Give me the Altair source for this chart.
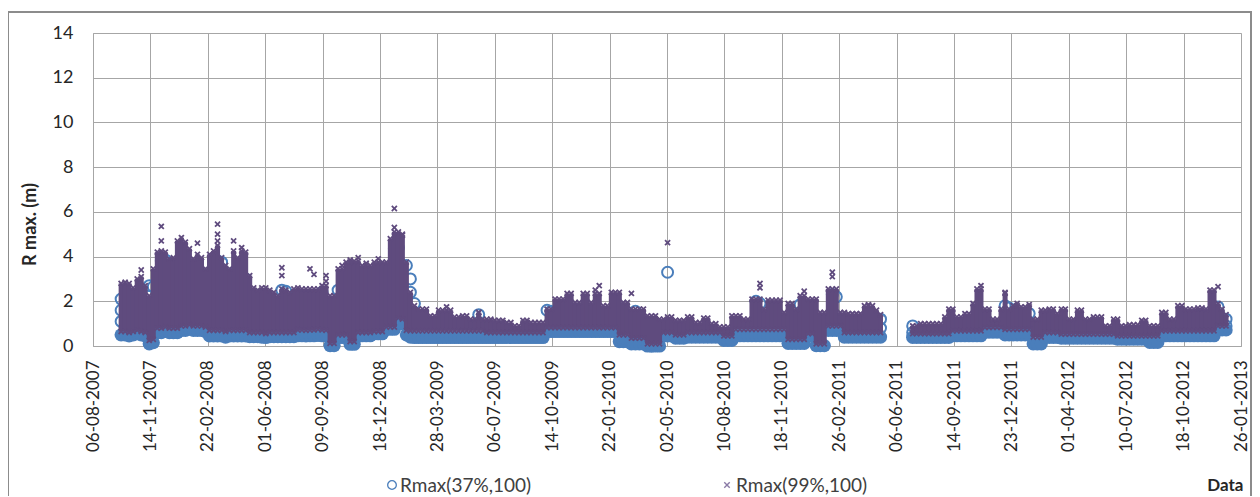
import altair as alt
import pandas as pd

BLUE = "#4A7EBB"
PURPLE = "#5F4B7E"
GRID = "#a6a6a6"
TEXT = "#262626"
FONT = "Lato"
FS = 17

SERIES_37 = "Rmax(37%,100)"
SERIES_99 = "Rmax(99%,100)"

# weekly samples
SEG1_START = "2007-09-24"
SEG2_START = "2011-07-04"

seg1_hi = [
    2.8, 2.85, 2.8, 2.6, 3.0, 3.1, 2.7, 2.25, 3.45, 4.2,
    4.25, 4.2, 3.9, 3.95, 4.7, 4.85, 4.65, 4.35, 3.9, 4.1,
    3.95, 3.45, 4.1, 4.25, 4.5, 3.95, 3.6, 3.45, 4.25, 3.95,
    4.25, 4.2, 3.15, 2.6, 2.5, 2.6, 2.6, 2.5, 2.4, 2.25,
    2.55, 2.5, 2.4, 2.55, 2.6, 2.55, 2.55, 2.55, 2.55, 2.55,
    2.7, 2.7, 2.25, 2.25, 3.45, 3.45, 3.75, 3.75, 3.8, 3.8,
    3.6, 3.6, 3.6, 3.75, 3.75, 3.75, 3.75, 4.8, 5.1, 5.1,
    4.95, 3.75, 2.4, 1.8, 1.65, 1.65, 1.65, 1.35, 1.35, 1.6,
    1.6, 1.6, 1.6, 1.3, 1.3, 1.35, 1.35, 1.2, 1.2, 1.5,
    1.2, 1.2, 1.2, 1.15, 1.15, 1.15, 1.05, 1.05, 0.9, 0.9,
    1.15, 1.15, 1.05, 1.05, 1.05, 1.05, 1.65, 1.65, 2.1, 2.1,
    2.1, 2.35, 2.35, 1.95, 1.95, 2.35, 2.35, 1.95, 2.35, 2.35,
    1.8, 1.8, 2.4, 2.4, 2.4, 1.95, 1.95, 1.65, 1.65, 1.65,
    1.65, 1.35, 1.35, 1.35, 1.2, 1.2, 1.3, 1.3, 1.15, 1.15,
    1.15, 1.3, 1.3, 1.05, 1.05, 1.25, 1.25, 1.0, 1.0, 0.85,
    0.85, 0.85, 1.35, 1.35, 1.35, 1.2, 1.2, 2.1, 2.1, 2.1,
    1.65, 2.05, 2.05, 2.05, 2.05, 1.5, 1.9, 1.9, 1.65, 2.25,
    2.25, 2.1, 2.1, 2.1, 1.5, 1.5, 2.55, 2.55, 2.55, 1.5,
    1.5, 1.45, 1.45, 1.45, 1.45, 1.8, 1.8, 1.8, 1.6, 1.4,
]
seg1_lo = [
    0.65, 0.65, 0.6, 0.65, 0.7, 0.65, 0.6, 0.25, 0.3, 0.8,
    0.8, 0.85, 0.8, 0.8, 0.8, 0.9, 0.9, 0.95, 0.9, 0.9,
    0.9, 0.85, 0.7, 0.7, 0.7, 0.7, 0.65, 0.7, 0.7, 0.7,
    0.7, 0.7, 0.6, 0.6, 0.6, 0.6, 0.55, 0.6, 0.6, 0.6,
    0.6, 0.6, 0.6, 0.6, 0.72, 0.72, 0.7, 0.72, 0.72, 0.75,
    0.72, 0.7, 0.12, 0.12, 0.5, 0.5, 0.5, 0.2, 0.2, 0.6,
    0.6, 0.6, 0.6, 0.65, 0.65, 0.65, 0.85, 0.85, 0.85, 1.25,
    1.2, 0.7, 0.68, 0.68, 0.68, 0.68, 0.68, 0.68, 0.68, 0.68,
    0.68, 0.68, 0.68, 0.68, 0.68, 0.68, 0.68, 0.68, 0.68, 0.68,
    0.68, 0.6, 0.6, 0.6, 0.6, 0.6, 0.6, 0.6, 0.6, 0.6,
    0.6, 0.6, 0.6, 0.6, 0.6, 0.6, 0.82, 0.82, 0.82, 0.82,
    0.82, 0.82, 0.82, 0.82, 0.82, 0.82, 0.82, 0.82, 0.82, 0.82,
    0.82, 0.82, 0.82, 0.82, 0.5, 0.5, 0.5, 0.35, 0.35, 0.35,
    0.35, 0.1, 0.1, 0.1, 0.1, 0.6, 0.6, 0.6, 0.5, 0.5,
    0.5, 0.6, 0.6, 0.6, 0.6, 0.6, 0.6, 0.6, 0.6, 0.6,
    0.45, 0.45, 0.45, 0.75, 0.75, 0.75, 0.75, 0.75, 0.75, 0.75,
    0.75, 0.75, 0.75, 0.75, 0.75, 0.75, 0.3, 0.3, 0.3, 0.3,
    0.3, 0.55, 0.55, 0.1, 0.1, 0.1, 0.9, 0.9, 0.9, 0.9,
    0.6, 0.6, 0.6, 0.6, 0.6, 0.6, 0.6, 0.6, 0.6, 0.6,
]
seg1_blue = [
    0.5, 0.5, 0.45, 0.5, 0.55, 0.5, 0.45, 0.1, 0.15, 0.6,
    0.6, 0.65, 0.6, 0.6, 0.6, 0.7, 0.7, 0.75, 0.7, 0.7,
    0.7, 0.65, 0.45, 0.45, 0.45, 0.45, 0.4, 0.45, 0.45, 0.45,
    0.45, 0.45, 0.42, 0.42, 0.42, 0.4, 0.38, 0.42, 0.42, 0.42,
    0.42, 0.42, 0.42, 0.42, 0.46, 0.46, 0.45, 0.46, 0.46, 0.48,
    0.46, 0.45, 0.02, 0.02, 0.38, 0.38, 0.38, 0.08, 0.08, 0.46,
    0.46, 0.46, 0.46, 0.55, 0.55, 0.55, 0.75, 0.75, 0.75, 1.05,
    1.0, 0.5, 0.4, 0.38, 0.38, 0.38, 0.38, 0.38, 0.38, 0.38,
    0.38, 0.38, 0.38, 0.38, 0.38, 0.38, 0.38, 0.38, 0.38, 0.38,
    0.38, 0.38, 0.38, 0.38, 0.38, 0.38, 0.38, 0.38, 0.38, 0.38,
    0.38, 0.38, 0.38, 0.38, 0.38, 0.38, 0.65, 0.65, 0.65, 0.65,
    0.65, 0.65, 0.65, 0.65, 0.65, 0.65, 0.65, 0.65, 0.65, 0.65,
    0.65, 0.65, 0.65, 0.65, 0.2, 0.2, 0.2, 0.1, 0.1, 0.1,
    0.1, 0.0, 0.0, 0.0, 0.0, 0.45, 0.45, 0.45, 0.35, 0.35,
    0.35, 0.4, 0.4, 0.4, 0.4, 0.4, 0.4, 0.4, 0.4, 0.4,
    0.25, 0.25, 0.25, 0.46, 0.46, 0.46, 0.46, 0.46, 0.46, 0.46,
    0.46, 0.46, 0.46, 0.46, 0.46, 0.46, 0.12, 0.12, 0.12, 0.12,
    0.12, 0.45, 0.45, 0.02, 0.02, 0.02, 0.7, 0.7, 0.7, 0.7,
    0.4, 0.4, 0.4, 0.4, 0.4, 0.4, 0.4, 0.4, 0.4, 0.4,
]
seg2_hi = [
    0.9, 0.9, 1.0, 1.0, 1.0, 1.0, 1.0, 1.0, 1.3, 1.65,
    1.65, 1.3, 1.3, 1.45, 1.45, 1.9, 2.55, 2.55, 1.65, 1.65,
    1.2, 1.2, 1.65, 2.35, 1.65, 1.8, 1.8, 1.75, 1.75, 1.75,
    1.2, 1.2, 1.6, 1.6, 1.65, 1.65, 1.45, 1.65, 1.65, 1.2,
    1.2, 1.6, 1.6, 1.2, 1.2, 1.3, 1.3, 1.3, 0.9, 0.9,
    1.2, 1.2, 0.9, 0.9, 0.95, 0.95, 0.95, 1.15, 1.15, 0.9,
    0.9, 0.9, 1.5, 1.5, 1.2, 1.2, 1.8, 1.8, 1.65, 1.65,
    1.65, 1.7, 1.7, 1.65, 2.5, 2.5, 1.9, 1.65, 1.4,
]
seg2_lo = [
    0.55, 0.55, 0.55, 0.55, 0.55, 0.55, 0.55, 0.55, 0.55, 0.55,
    0.68, 0.68, 0.68, 0.68, 0.68, 0.68, 0.68, 0.68, 0.83, 0.83,
    0.83, 0.83, 0.83, 0.75, 0.75, 0.75, 0.75, 0.75, 0.75, 0.75,
    0.4, 0.4, 0.4, 0.6, 0.6, 0.6, 0.6, 0.53, 0.53, 0.53,
    0.53, 0.53, 0.53, 0.53, 0.53, 0.53, 0.53, 0.53, 0.53, 0.53,
    0.53, 0.45, 0.45, 0.45, 0.45, 0.45, 0.45, 0.45, 0.45, 0.45,
    0.45, 0.45, 0.68, 0.68, 0.68, 0.68, 0.68, 0.68, 0.68, 0.68,
    0.68, 0.68, 0.68, 0.68, 0.68, 0.68, 0.9, 0.9, 0.9,
]
seg2_blue = [
    0.39, 0.39, 0.39, 0.39, 0.39, 0.39, 0.39, 0.39, 0.39, 0.39,
    0.46, 0.46, 0.46, 0.46, 0.46, 0.46, 0.46, 0.46, 0.62, 0.62,
    0.62, 0.62, 0.62, 0.5, 0.5, 0.5, 0.5, 0.5, 0.5, 0.5,
    0.1, 0.1, 0.1, 0.39, 0.39, 0.39, 0.39, 0.35, 0.35, 0.35,
    0.35, 0.35, 0.35, 0.35, 0.35, 0.35, 0.35, 0.35, 0.35, 0.35,
    0.35, 0.31, 0.31, 0.31, 0.31, 0.31, 0.31, 0.31, 0.31, 0.16,
    0.16, 0.16, 0.46, 0.46, 0.46, 0.46, 0.46, 0.46, 0.46, 0.46,
    0.46, 0.46, 0.46, 0.46, 0.46, 0.46, 0.72, 0.72, 0.72,
]

# isolated circles of Rmax(37%,100) that stand out: (segment, week, value)
blue_points = [
    (1, 0, 2.1), (1, 0, 1.6), (1, 0, 1.1), (1, 1, 0.9), (1, 7, 2.7), (1, 8, 2.65),
    (1, 10, 3.8), (1, 11, 3.85), (1, 24, 3.8), (1, 25, 3.75), (1, 28, 3.28),
    (1, 30, 2.95), (1, 31, 3.0), (1, 40, 2.5), (1, 41, 2.45), (1, 50, 2.4),
    (1, 54, 2.5), (1, 61, 3.3), (1, 68, 4.35), (1, 69, 4.4), (1, 71, 3.6),
    (1, 72, 3.0), (1, 72, 2.4), (1, 73, 1.9), (1, 89, 1.4), (1, 106, 1.6),
    (1, 107, 1.55), (1, 125, 0.27), (1, 128, 1.55), (1, 132, 0.0), (1, 136, 3.3),
    (1, 158, 2.0), (1, 159, 1.9), (1, 169, 1.85), (1, 177, 2.3), (1, 178, 2.2),
    (1, 189, 1.2), (1, 189, 0.8),
    (2, 0, 0.9), (2, 0, 0.6), (2, 23, 1.8), (2, 24, 1.7), (2, 29, 1.45),
    (2, 76, 1.75), (2, 78, 1.2), (2, 78, 0.9),
]
# isolated crosses of Rmax(99%,100) above the band: (segment, week, value)
purple_points = [
    (1, 5, 3.4), (1, 10, 5.35), (1, 10, 4.7), (1, 19, 4.6), (1, 24, 5.45),
    (1, 24, 5.0), (1, 24, 4.7), (1, 28, 4.7), (1, 30, 4.4), (1, 40, 3.5),
    (1, 40, 3.15), (1, 47, 3.45), (1, 48, 3.2), (1, 51, 3.15), (1, 51, 2.9),
    (1, 55, 3.6), (1, 57, 3.85), (1, 59, 3.95), (1, 61, 3.7), (1, 64, 3.9),
    (1, 68, 6.15), (1, 68, 5.3), (1, 70, 5.0), (1, 81, 1.75), (1, 89, 1.5),
    (1, 118, 2.5), (1, 119, 2.7), (1, 127, 2.35), (1, 136, 4.62), (1, 159, 2.8),
    (1, 159, 2.6), (1, 170, 2.45), (1, 177, 3.3), (1, 177, 3.1), (1, 186, 1.85),
    (2, 17, 2.7), (2, 23, 2.4), (2, 26, 1.9), (2, 29, 1.85), (2, 76, 2.65),
]

tick_labels = [
    "06-08-2007", "14-11-2007", "22-02-2008", "01-06-2008", "09-09-2008",
    "18-12-2008", "28-03-2009", "06-07-2009", "14-10-2009", "22-01-2010",
    "02-05-2010", "10-08-2010", "18-11-2010", "26-02-2011", "06-06-2011",
    "14-09-2011", "23-12-2011", "01-04-2012", "10-07-2012", "18-10-2012",
    "26-01-2013",
]
y_ticks = [0, 2, 4, 6, 8, 10, 12, 14]


def week_date(seg, w):
    start = pd.Timestamp(SEG1_START if seg == 1 else SEG2_START)
    return (start + pd.Timedelta(days=7 * w)).strftime("%Y-%m-%d")


band_rows = []
for seg, hi, lo, bl in ((1, seg1_hi, seg1_lo, seg1_blue), (2, seg2_hi, seg2_lo, seg2_blue)):
    for w in range(len(hi)):
        band_rows.append({"date": week_date(seg, w), "hi": hi[w], "lo": lo[w], "blue": bl[w]})
band = pd.DataFrame(band_rows)

blue_df = pd.DataFrame(
    [{"date": week_date(s, w), "value": v} for s, w, v in blue_points]
)
cross_rows = []
for r in band_rows:
    cross_rows.append({"date": r["date"], "value": r["hi"]})
    cross_rows.append({"date": r["date"], "value": r["lo"]})
for s, w, v in purple_points:
    cross_rows.append({"date": week_date(s, w), "value": v})
cross_df = pd.DataFrame(cross_rows)


def dt(label):
    d, m, y = (int(p) for p in label.split("-"))
    return alt.DateTime(year=y, month=m, date=d, utc=True)


x_scale = alt.Scale(type="utc", domain=[dt(tick_labels[0]), dt(tick_labels[-1])])
x_axis = alt.Axis(
    values=[dt(t) for t in tick_labels], format="%d-%m-%Y", labelAngle=270,
    labelFont=FONT, labelFontSize=FS, labelColor=TEXT, labelPadding=14,
    ticks=False, grid=True, gridColor=GRID, domainColor=GRID,
    title="Data", titleFont=FONT, titleFontSize=FS, titleFontWeight="bold",
    titleColor=TEXT, titleX=1150, titleY=139, titleAlign="right",
    titleBaseline="middle", labelOverlap=False,
)
y_scale = alt.Scale(domain=[0, 14], nice=False)
y_axis = alt.Axis(
    values=y_ticks, labelFont=FONT, labelFontSize=FS + 1, labelColor=TEXT,
    labelPadding=20, ticks=False, grid=True, gridColor=GRID, domainColor=GRID,
    title="R max. (m)", titleFont=FONT, titleFontSize=FS + 1, titleFontWeight="bold",
    titleColor=TEXT, titleX=-63, titleY=191, titleAngle=270, titleAlign="center",
    titleBaseline="middle",
)

XPATH = "M-1,-0.6L-0.6,-1L0,-0.4L0.6,-1L1,-0.6L0.4,0L1,0.6L0.6,1L0,0.4L-0.6,1L-1,0.6L-0.4,0Z"
XSTROKE = "M-1,-1L1,1M-1,1L1,-1"


def X():
    return alt.X("date:T", scale=x_scale, axis=x_axis)


def Y(field):
    return alt.Y(field, type="quantitative", scale=y_scale, axis=y_axis)


one = pd.DataFrame({"k": [0]})

border = alt.Chart(one).mark_rect(
    fill="white", fillOpacity=0, stroke="#8c8c8c", strokeWidth=2
).encode(x=alt.value(-85), x2=alt.value(1158), y=alt.value(-21), y2=alt.value(480))

blue_low = alt.Chart(band).mark_point(
    filled=True, shape="circle", size=175, opacity=1, color=BLUE
).encode(x=X(), y=Y("blue"))

blue_iso = alt.Chart(blue_df).mark_point(
    filled=False, shape="circle", size=120, strokeWidth=2, opacity=1, color=BLUE
).encode(x=X(), y=Y("value"))

band_rule = alt.Chart(band).mark_rule(strokeWidth=5, color=PURPLE).encode(
    x=X(), y=Y("lo"), y2="hi"
)

crosses = alt.Chart(cross_df).mark_point(
    filled=True, shape=XPATH, size=40, opacity=1, color=PURPLE
).encode(x=X(), y=Y("value"))

# legend drawn below the plot
leg_circle = alt.Chart(one).mark_point(
    filled=False, shape="circle", size=75, strokeWidth=1.3, color=BLUE, opacity=1
).encode(x=alt.value(299), y=alt.value(452))
leg_cross = alt.Chart(one).mark_point(
    filled=False, shape=XSTROKE, size=30, strokeWidth=1.4, color="#8a7aa6", opacity=1
).encode(x=alt.value(634), y=alt.value(452))
leg_text1 = alt.Chart(one).mark_text(
    text=SERIES_37, align="left", baseline="middle", font=FONT, fontSize=19, color="#404040"
).encode(x=alt.value(307), y=alt.value(453))
leg_text2 = alt.Chart(one).mark_text(
    text=SERIES_99, align="left", baseline="middle", font=FONT, fontSize=19, color="#404040"
).encode(x=alt.value(643), y=alt.value(453))

chart = alt.layer(
    border, blue_low, blue_iso, band_rule, crosses,
    leg_circle, leg_cross, leg_text1, leg_text2,
).properties(
    width=1148, height=313,
    padding={"left": 85, "top": 25, "right": 11, "bottom": 150},
    autosize=alt.AutoSizeParams(type="none"),
).configure_view(stroke=GRID, strokeWidth=1).configure(background="white")

chart.save("out.html", embed_options={"renderer": "svg", "actions": False})
